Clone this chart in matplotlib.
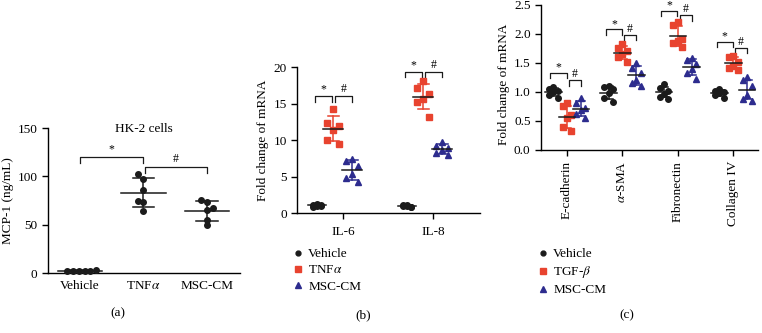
import numpy as np
import matplotlib
matplotlib.use("Agg")
import matplotlib.pyplot as plt
from matplotlib.lines import Line2D

plt.rcParams["font.family"] = ["Liberation Serif", "DejaVu Serif"]
plt.rcParams["mathtext.fontset"] = "stix"
plt.rcParams["font.size"] = 9.5

# ---- data ----
# (a) MCP-1 secretion, HK-2 cells
cats_a = ["Vehicle", r"TNF$\alpha$", "MSC-CM"]
a_vehicle = [2.5, 2.0, 1.8, 2.2, 2.6, 3.0]
a_tnf = [103, 97, 86, 75, 74, 64]
a_msc = [76, 74, 67, 65, 55, 50]

# (b) IL-6 / IL-8 mRNA
cats_b = ["IL-6", "IL-8"]
b_vehicle = [[1.2, 1.1, 1.0, 1.0, 0.9, 1.1], [1.1, 1.0, 0.9, 1.0, 1.1, 0.9]]
b_tnf = [[14.3, 12.3, 12.0, 11.4, 10.0, 9.5], [18.1, 17.2, 16.4, 15.6, 15.3, 13.2]]
b_msc = [[7.4, 7.2, 6.5, 5.3, 4.8, 4.2], [9.8, 9.2, 8.9, 8.6, 8.3, 8.0]]

# (c) EMT markers mRNA
cats_c = ["E-cadherin", r"$\alpha$-SMA", "Fibronectin", "Collagen IV"]
c_vehicle = [[1.08, 1.05, 1.02, 1.0, 0.95, 0.9],
             [1.1, 1.08, 1.05, 0.98, 0.9, 0.82],
             [1.13, 1.06, 1.02, 0.97, 0.92, 0.88],
             [1.05, 1.02, 1.0, 0.98, 0.95, 0.9]]
c_tgf = [[0.8, 0.75, 0.6, 0.55, 0.4, 0.32],
         [1.83, 1.75, 1.7, 1.65, 1.6, 1.52],
         [2.2, 2.15, 1.92, 1.88, 1.84, 1.77],
         [1.62, 1.6, 1.52, 1.45, 1.42, 1.38]]
c_msc = [[0.9, 0.8, 0.72, 0.68, 0.62, 0.55],
         [1.5, 1.42, 1.33, 1.2, 1.15, 1.1],
         [1.58, 1.55, 1.48, 1.4, 1.32, 1.22],
         [1.25, 1.2, 1.1, 0.95, 0.88, 0.85]]

# significance bracket heights (star, hash)
a_brackets = [(120, 110)]
b_brackets = [(16.0, 16.0), (19.3, 19.3)]
c_brackets = [(1.33, 1.20), (2.08, 1.98), (2.40, 2.32), (1.86, 1.76)]

BLACK = "#1b1b1b"
RED = "#e8432f"
BLUE = "#2d2c8e"
JIT = np.array([0, -1, 1, 0, -1, 1])


def draw_group(ax, x, vals, color, marker, jit, mean_w, cap_w, ms):
    vals = np.asarray(vals, dtype=float)
    ax.plot(x + jit, vals, ls="none", marker=marker, color=color, ms=ms,
            mec=color, zorder=3, clip_on=False)
    m, sd = vals.mean(), vals.std(ddof=1)
    ax.plot([x, x], [m - sd, m + sd], color=color, lw=1.1, zorder=2)
    for yy in (m - sd, m + sd):
        ax.plot([x - cap_w, x + cap_w], [yy, yy], color=color, lw=1.1, zorder=2)
    ax.plot([x - mean_w, x + mean_w], [m, m], color=BLACK, lw=1.1, zorder=4)


def bracket(ax, x1, x2, y, h, label, dy):
    ax.plot([x1, x1, x2, x2], [y - h, y, y, y - h], color=BLACK, lw=0.9,
            clip_on=False)
    ax.text((x1 + x2) / 2, y + dy, label, ha="center", va="bottom",
            fontsize=8.5, clip_on=False)


def style_axes(ax):
    for s in ("top", "right"):
        ax.spines[s].set_visible(False)
    for s in ("left", "bottom"):
        ax.spines[s].set_linewidth(1.0)
    ax.tick_params(width=1.0, length=4, labelsize=9.5)


def add_legend(labels, x, y):
    handles = [Line2D([], [], ls="none", marker="o", color=BLACK, ms=3.5),
               Line2D([], [], ls="none", marker="s", color=RED, ms=3.8),
               Line2D([], [], ls="none", marker="^", color=BLUE, ms=4)]
    fig.legend(handles, labels, loc="upper left",
               bbox_to_anchor=(x / 762, 1 - y / 333), frameon=False,
               handlelength=1.0, handletextpad=0.3, labelspacing=0.3,
               borderpad=0, borderaxespad=0, fontsize=9.5)


fig = plt.figure(figsize=(7.62, 3.33), dpi=100)

# ---------- (a) ----------
ax = fig.add_axes([0.063, 0.180, 0.252, 0.435])
style_axes(ax)
draw_group(ax, 0, a_vehicle, BLACK, "o", np.linspace(-0.2, 0.26, 6), 0.35, 0.17, 4)
draw_group(ax, 1, a_tnf, BLACK, "o", np.array([-0.09, 0, 0, -0.09, 0, 0]), 0.35, 0.17, 4)
draw_group(ax, 2, a_msc, BLACK, "o", np.array([-0.09, 0, 0.09, 0, 0, 0]), 0.35, 0.17, 4)
ax.set_xlim(-0.5, 2.52)
ax.set_ylim(0, 150)
ax.set_yticks([0, 50, 100, 150])
ax.set_xticks(range(len(cats_a)))
ax.set_xticklabels(cats_a)
ax.tick_params(axis="x", length=0, pad=5)
ax.set_ylabel("MCP-1 (ng/mL)")
ax.yaxis.set_label_coords(-0.175, 0.5)
ax.text(1, 149, "HK-2 cells", ha="center", va="center")
star_y, hash_y = a_brackets[0]
bracket(ax, 0, 1, star_y, 6, "*", 2)
bracket(ax, 1.02, 2, hash_y, 6, "#", 2)
fig.text(118 / 762, 1 - 313 / 333, "(a)", ha="center", va="center")

# ---------- (b) ----------
ax = fig.add_axes([0.390, 0.360, 0.240, 0.438])
style_axes(ax)
offs_b = (-0.29, -0.11, 0.1)
for i in range(len(cats_b)):
    draw_group(ax, i + offs_b[0], b_vehicle[i], BLACK, "o", JIT * 0.04, 0.1, 0.05, 4)
    draw_group(ax, i + offs_b[1], b_tnf[i], RED, "s", JIT * 0.065, 0.11, 0.06, 4.2)
    draw_group(ax, i + offs_b[2], b_msc[i], BLUE, "^", JIT * 0.065, 0.11, 0.06, 4.6)
    sy, hy = b_brackets[i]
    bracket(ax, i - 0.31, i - 0.12, sy, 0.7, "*", 0.2)
    bracket(ax, i - 0.09, i + 0.1, hy, 0.7, "#", 0.2)
ax.set_xlim(-0.51, 1.52)
ax.set_ylim(0, 20)
ax.set_yticks([0, 5, 10, 15, 20])
ax.set_xticks(range(len(cats_b)))
ax.set_xticklabels(cats_b)
ax.tick_params(axis="x", pad=5)
ax.set_ylabel("Fold change of mRNA")
ax.yaxis.set_label_coords(-0.155, 0.5)
add_legend(["Vehicle", r"TNF$\alpha$", "MSC-CM"], 291, 248)
fig.text(363 / 762, 1 - 315 / 333, "(b)", ha="center", va="center")

# ---------- (c) ----------
ax = fig.add_axes([0.710, 0.550, 0.285, 0.435])
style_axes(ax)
offs_c = (-0.25, 0, 0.25)
for i in range(len(cats_c)):
    draw_group(ax, i + offs_c[0], c_vehicle[i], BLACK, "o", JIT * 0.08, 0.15, 0.08, 4)
    draw_group(ax, i + offs_c[1], c_tgf[i], RED, "s", JIT * 0.08, 0.15, 0.08, 4.2)
    draw_group(ax, i + offs_c[2], c_msc[i], BLUE, "^", JIT * 0.08, 0.15, 0.08, 4.6)
    sy, hy = c_brackets[i]
    bracket(ax, i - 0.3, i - 0.01, sy, 0.09, "*", -0.01)
    bracket(ax, i + 0.03, i + 0.25, hy, 0.09, "#", 0.0)
ax.set_xlim(-0.47, 3.45)
ax.set_ylim(0, 2.5)
ax.set_yticks([0, 0.5, 1.0, 1.5, 2.0, 2.5])
ax.set_yticklabels(["0.0", "0.5", "1.0", "1.5", "2.0", "2.5"])
ax.set_xticks(range(len(cats_c)))
ax.set_xticklabels(cats_c, rotation=90)
ax.tick_params(axis="x", pad=4)
ax.set_ylabel("Fold change of mRNA")
ax.yaxis.set_label_coords(-0.145, 0.45)
add_legend(["Vehicle", r"TGF-$\beta$", "MSC-CM"], 536, 248)
fig.text(627 / 762, 1 - 315 / 333, "(c)", ha="center", va="center")

fig.savefig("out.png", dpi=100)
